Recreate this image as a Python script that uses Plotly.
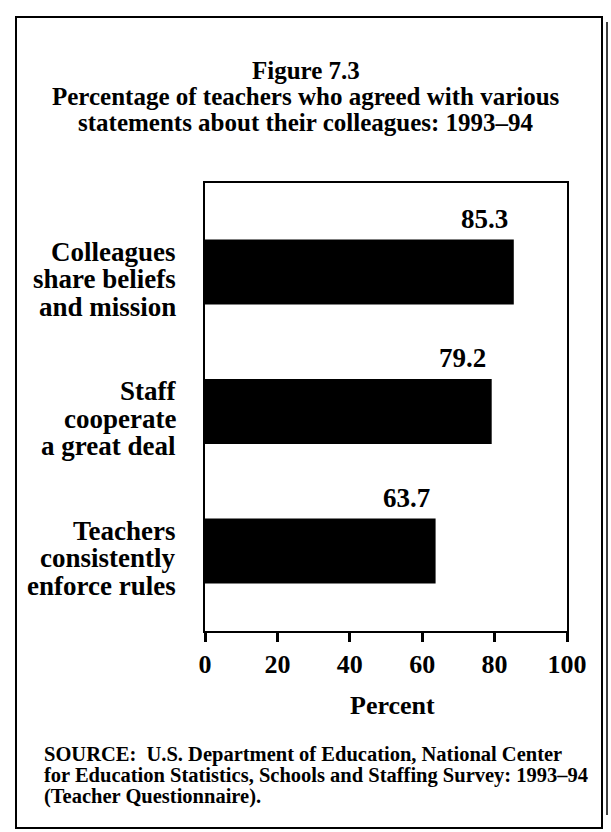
import plotly.graph_objects as go

# Survey results, top to bottom
categories = [
    "Colleagues\nshare beliefs\nand mission",
    "Staff\ncooperate\na great deal",
    "Teachers\nconsistently\nenforce rules",
]
percent = [85.3, 79.2, 63.7]
x_ticks = [0, 20, 40, 60, 80, 100]

title_lines = [
    "Figure 7.3",
    "Percentage of teachers who agreed with various",
    "statements about their colleagues: 1993–94",
]
source_lines = [
    "SOURCE:  U.S. Department of Education, National Center",
    "for Education Statistics, Schools and Staffing Survey: 1993–94",
    "(Teacher Questionnaire).",
]

FONT = "Liberation Serif"
BLACK = "black"

# Figure geometry (pixels) used to place free text in paper units
W, H = 611, 832
L, R, T, B = 205, 44, 183, 201
PW, PH = W - L - R, H - T - B


def px_x(px):
    return (px - L) / PW


def px_y(py):
    return (H - B - py) / PH


positions = list(range(len(categories)))
BAR_W = 0.466

fig = go.Figure()
fig.add_trace(go.Bar(
    x=percent, y=positions, orientation="h",
    width=BAR_W, marker=dict(color=BLACK, line=dict(width=0)),
    hoverinfo="skip",
))

# Value labels above each bar, right-aligned near its end
for pos, val in zip(positions, percent):
    fig.add_annotation(
        x=val, y=pos - BAR_W / 2, xref="x", yref="y",
        text=f"<b>{val:.1f}</b>", showarrow=False,
        xanchor="right", yanchor="bottom", xshift=-4, yshift=4,
        font=dict(family=FONT, size=27, color=BLACK),
    )

# Category labels, right-aligned in the left margin, one line at a time
LINE_STEP = 27.5 / 139.5  # line spacing in data units
for pos, cat in zip(positions, categories):
    lines = cat.split("\n")
    n = len(lines)
    for i, line in enumerate(lines):
        fig.add_annotation(
            x=px_x(178), y=pos + (i - (n - 1) / 2) * LINE_STEP,
            xref="paper", yref="y",
            text=f"<b>{line}</b>", showarrow=False,
            xanchor="right", yanchor="middle", yshift=-7,
            font=dict(family=FONT, size=27, color=BLACK),
        )

# Title block
for line, py in zip(title_lines, [70, 97, 122]):
    fig.add_annotation(
        x=px_x(306), y=px_y(py), xref="paper", yref="paper",
        text=f"<b>{line}</b>", showarrow=False,
        xanchor="center", yanchor="middle",
        font=dict(family=FONT, size=25, color=BLACK),
    )

# Axis title
fig.add_annotation(
    x=px_x(392), y=px_y(705), xref="paper", yref="paper",
    text="<b>Percent</b>", showarrow=False,
    xanchor="center", yanchor="middle",
    font=dict(family=FONT, size=26, color=BLACK),
)

# Source note
for line, py in zip(source_lines, [754, 775, 796]):
    fig.add_annotation(
        x=px_x(42), y=px_y(py), xref="paper", yref="paper",
        text=f"<b>{line}</b>", showarrow=False,
        xanchor="left", yanchor="middle",
        font=dict(family=FONT, size=20.5, color=BLACK),
    )

# Outer page frame, with the page edge just beside its right side
fig.add_shape(type="rect", xref="paper", yref="paper",
              x0=px_x(16), x1=px_x(602), y0=px_y(828), y1=px_y(17),
              line=dict(color=BLACK, width=2))
fig.add_shape(type="line", xref="paper", yref="paper",
              x0=px_x(607), x1=px_x(607), y0=px_y(815), y1=px_y(22),
              line=dict(color=BLACK, width=1.5))

fig.update_layout(
    width=W, height=H,
    margin=dict(l=L, r=R, t=T, b=B),
    paper_bgcolor="white", plot_bgcolor="white",
    showlegend=False,
    font=dict(family=FONT, color=BLACK),
    xaxis=dict(
        range=[0, 100], tickvals=x_ticks,
        ticktext=[f"<b>{t}</b>" for t in x_ticks],
        ticks="outside", ticklen=9, tickwidth=3, tickcolor=BLACK,
        showline=True, linecolor=BLACK, linewidth=2, mirror=True,
        showgrid=False, zeroline=False,
        tickfont=dict(family=FONT, size=26, color=BLACK),
    ),
    yaxis=dict(
        range=[2.573, -0.638], showticklabels=False, ticks="",
        showline=True, linecolor=BLACK, linewidth=2, mirror=True,
        showgrid=False, zeroline=False,
    ),
)

fig.write_html("out.html")
